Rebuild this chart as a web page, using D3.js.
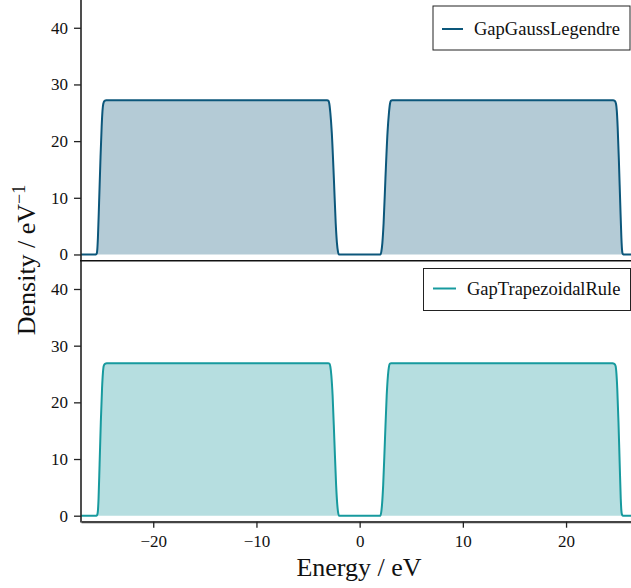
<!DOCTYPE html>
<html><head><meta charset="utf-8">
<script src="https://cdn.jsdelivr.net/npm/d3@7"></script>
<style>
body{margin:0;background:#fff;}
svg{display:block;}
</style></head>
<body><svg id="c" width="631" height="588" style="font-family:'Liberation Serif',serif"></svg>
<script>
// ---- data ----
const energyTop = [-27, -25.55, -25.47, -25.42, -25.36, -25.25, -25.12, -25.0, -24.92, -24.84, -24.72, -24.55,
  -3.15, -3.02, -2.94, -2.84, -2.7, -2.5, -2.32, -2.2, -2.1, -2.02,
  2.02, 2.1, 2.2, 2.32, 2.5, 2.7, 2.84, 2.94, 3.02, 3.15,
  24.55, 24.72, 24.84, 24.92, 25.0, 25.12, 25.25, 25.36, 25.42, 25.47, 25.55, 27];
const dosTop = [0, 0, 0.2, 0.9, 3, 9, 16.5, 22.5, 25.3, 26.6, 27.1, 27.2,
  27.2, 27.1, 26.6, 25, 21.5, 13.5, 5.5, 2, 0.5, 0,
  0, 0.5, 2, 5.5, 13.5, 21.5, 25, 26.6, 27.1, 27.2,
  27.2, 27.1, 26.6, 25.3, 22.5, 16.5, 9, 3, 0.9, 0.2, 0, 0];

const energyBot = [-27, -25.5, -25.42, -25.36, -25.3, -25.2, -25.08, -24.96, -24.88, -24.8, -24.68, -24.5,
  -3.05, -2.92, -2.84, -2.74, -2.62, -2.45, -2.28, -2.17, -2.08, -2.0,
  2.0, 2.08, 2.17, 2.28, 2.45, 2.62, 2.74, 2.84, 2.92, 3.05,
  24.5, 24.68, 24.8, 24.88, 24.96, 25.08, 25.2, 25.3, 25.36, 25.42, 25.5, 27];
const dosBot = [0, 0, 0.2, 0.9, 3, 9, 16.5, 22.5, 25.1, 26.4, 26.8, 26.9,
  26.9, 26.8, 26.3, 24.7, 21.2, 13.3, 5.4, 2, 0.5, 0,
  0, 0.5, 2, 5.4, 13.3, 21.2, 24.7, 26.3, 26.8, 26.9,
  26.9, 26.8, 26.4, 25.1, 22.5, 16.5, 9, 3, 0.9, 0.2, 0, 0];

const xTicks = [-20, -10, 0, 10, 20];
const yTicks = [0, 10, 20, 30, 40];
const seriesNames = ["GapGaussLegendre", "GapTrapezoidalRule"];
const lineColors = ["#0c577b", "#179a9e"];
const fillColors = ["#b4cbd6", "#b6dee0"];

const FONT = "'Liberation Serif', 'DejaVu Serif', serif";

// ---- layout ----
const svg = d3.select("#c");
const x = d3.scaleLinear().domain([-27, 27]).range([81, 638.3]);
const yT = d3.scaleLinear().domain([-1.1, 44.9]).range([260.7, 0]);
const yB = d3.scaleLinear().domain([-1.06, 44.94]).range([521.7, 261]);

svg.append("defs").append("clipPath").attr("id","cp")
  .append("rect").attr("x",81).attr("y",0).attr("width",550).attr("height",522);

function styleTicks(sel) {
  sel.selectAll(".tick text")
    .style("font-family", FONT).style("font-size", "17px").style("fill", "#111");
  sel.selectAll(".tick line").attr("stroke","#222").attr("stroke-width",1.3);
}

function panel(xs, ys, yS, i, legBox, legLine) {
  const data = xs.map((e, k) => ({e, d: ys[k]}));
  const g = svg.append("g").attr("clip-path","url(#cp)");
  g.append("path").datum(data)
    .attr("d", d3.area().x(p => x(p.e)).y0(yS(0)).y1(p => yS(p.d)).curve(d3.curveMonotoneX))
    .attr("fill", fillColors[i]);
  g.append("path").datum(data)
    .attr("d", d3.line().x(p => x(p.e)).y(p => yS(p.d)).curve(d3.curveMonotoneX))
    .attr("fill","none").attr("stroke", lineColors[i]).attr("stroke-width", 2);

  // y axis
  const ya = svg.append("g").attr("transform","translate(81,0)")
    .call(d3.axisLeft(yS).tickValues(yTicks).tickSize(7).tickPadding(6).tickSizeOuter(0));
  ya.select(".domain").remove();
  styleTicks(ya);

  // legend
  svg.append("rect").attr("x",legBox[0]).attr("y",legBox[1]).attr("width",legBox[2]).attr("height",legBox[3])
    .attr("fill","#fff").attr("stroke","#222").attr("stroke-width",1);
  svg.append("line").attr("x1",legLine[0]).attr("x2",legLine[1]).attr("y1",legLine[2]).attr("y2",legLine[2])
    .attr("stroke",lineColors[i]).attr("stroke-width",2);
  svg.append("text").attr("x",legLine[1]+11).attr("y",legLine[2]+6)
    .style("font-family", FONT).style("font-size","18.5px").attr("fill","#111").text(seriesNames[i]);
}

panel(energyTop, dosTop, yT, 0, [433, 6, 197, 44], [442, 463, 29]);
panel(energyBot, dosBot, yB, 1, [423.5, 268.5, 207, 42], [433, 456, 288.5]);

// left spine
svg.append("line").attr("x1",81).attr("x2",81).attr("y1",0).attr("y2",522.5)
  .attr("stroke","#222").attr("stroke-width",1.6);
// middle separator (top panel x-axis)
svg.append("line").attr("x1",80).attr("x2",631).attr("y1",260.7).attr("y2",260.7)
  .attr("stroke","#111").attr("stroke-width",1.6);
// bottom x axis
const xa = svg.append("g").attr("transform","translate(0,521.7)")
  .call(d3.axisBottom(x).tickValues(xTicks).tickSize(6).tickPadding(7).tickSizeOuter(0)
    .tickFormat(d => d < 0 ? "\u2212" + Math.abs(d) : String(d)));
xa.select(".domain").attr("stroke","#444").attr("stroke-width",2.2);
styleTicks(xa);

// axis titles
svg.append("text").attr("x",359).attr("y",576).attr("text-anchor","middle")
  .style("font-family", FONT).style("font-size","26px").attr("fill","#111").text("Energy / eV");
const yl = svg.append("text").attr("transform","translate(35,260) rotate(-90)")
  .attr("text-anchor","middle").style("font-family", FONT).style("font-size","26px").attr("fill","#111");
yl.append("tspan").text("Density / eV");
yl.append("tspan").attr("dy",-10).style("font-size","18px").text("\u22121");
</script></body></html>
